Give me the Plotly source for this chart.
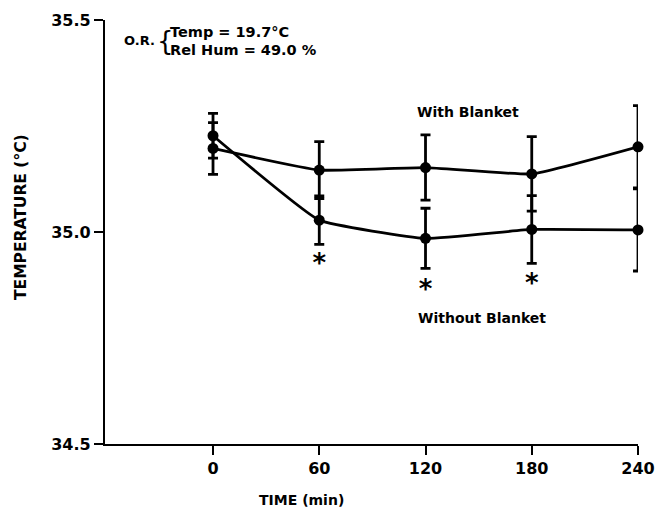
import plotly.graph_objects as go

times = [0, 60, 120, 180, 240]
with_blanket = [35.197, 35.146, 35.152, 35.137, 35.201]
with_err = [0.061, 0.067, 0.077, 0.088, 0.097]
without_blanket = [35.227, 35.028, 34.985, 35.006, 35.005]
without_err = [0.053, 0.057, 0.071, 0.080, 0.097]
star_times = [60, 120, 180]
star_temps = [34.934, 34.871, 34.885]
x_ticks = [0, 60, 120, 180, 240]
y_ticks = [34.5, 35.0, 35.5]
y_tick_labels = ["34.5", "35.0", "35.5"]

FONT = "DejaVu Sans, Arial, sans-serif"

fig = go.Figure()
for vals, errs in [(with_blanket, with_err), (without_blanket, without_err)]:
    fig.add_trace(go.Scatter(
        x=times, y=vals, mode="lines+markers",
        line=dict(color="black", width=2.8, shape="spline", smoothing=0.35),
        marker=dict(color="black", size=11),
        error_y=dict(type="data", array=errs, visible=True, color="black",
                     thickness=2.8, width=5),
        cliponaxis=False, showlegend=False, hoverinfo="skip",
    ))

fig.add_trace(go.Scatter(
    x=star_times, y=[t - 0.012 for t in star_temps], mode="text",
    text=["<b>*</b>"] * len(star_times),
    textfont=dict(family=FONT, size=26, color="black"),
    cliponaxis=False, showlegend=False, hoverinfo="skip",
))

label_font = dict(family=FONT, size=14, color="black")
ann = [
    dict(x=144, y=35.283, xref="x", yref="y", text="<b>With Blanket</b>",
         showarrow=False, font=label_font),
    dict(x=152, y=34.797, xref="x", yref="y", text="<b>Without Blanket</b>",
         showarrow=False, font=label_font),
    # O.R. conditions block
    dict(xref="paper", yref="paper", x=0, y=1, xanchor="left", yanchor="middle",
         xshift=17, yshift=-20, text="<b>O.R.</b>", showarrow=False,
         font=dict(family=FONT, size=13, color="black")),
    dict(xref="paper", yref="paper", x=0, y=1, xanchor="left", yanchor="middle",
         xshift=50, yshift=-21, text="{", showarrow=False,
         font=dict(family=FONT, size=26, color="black")),
    dict(xref="paper", yref="paper", x=0, y=1, xanchor="left", yanchor="middle",
         xshift=63, yshift=-12, text="<b>Temp = 19.7°C</b>", showarrow=False,
         font=dict(family=FONT, size=14.5, color="black")),
    dict(xref="paper", yref="paper", x=0, y=1, xanchor="left", yanchor="middle",
         xshift=63, yshift=-30, text="<b>Rel Hum = 49.0 %</b>", showarrow=False,
         font=dict(family=FONT, size=14.5, color="black")),
    # axis titles
    dict(xref="paper", yref="paper", x=0, y=0.5, xanchor="center", yanchor="middle",
         xshift=-84, yshift=15, text="<b>TEMPERATURE (°C)</b>", textangle=-90,
         showarrow=False, font=dict(family=FONT, size=15.5, color="black")),
    dict(xref="x", yref="paper", x=50, y=0, xanchor="center", yanchor="middle",
         yshift=-56, text="<b>TIME (min)</b>", showarrow=False,
         font=dict(family=FONT, size=14, color="black")),
]

axis_common = dict(showline=True, linecolor="black", linewidth=2.2,
                   ticks="outside", ticklen=9, tickwidth=2.2, tickcolor="black",
                   showgrid=False, zeroline=False, automargin=False,
                   tickfont=dict(family=FONT, size=16, color="black"))

fig.update_layout(
    width=655, height=514,
    margin=dict(l=105, r=17, t=20, b=70),
    paper_bgcolor="white", plot_bgcolor="white",
    annotations=ann,
    xaxis=dict(range=[-61, 240], tickvals=x_ticks,
               ticktext=[f"<b>{t}</b>" for t in x_ticks], **axis_common),
    yaxis=dict(range=[34.5, 35.5], tickvals=y_ticks,
               ticktext=[f"<b>{t}</b>" for t in y_tick_labels], **axis_common),
)

fig.write_html("out.html", config={"displayModeBar": False})

# remove the default page margin so the figure sits at the window's top-left corner
with open("out.html", "r", encoding="utf-8") as f:
    html = f.read()
html = html.replace("<body>", '<body style="margin:0;padding:0;">', 1)
with open("out.html", "w", encoding="utf-8") as f:
    f.write(html)
